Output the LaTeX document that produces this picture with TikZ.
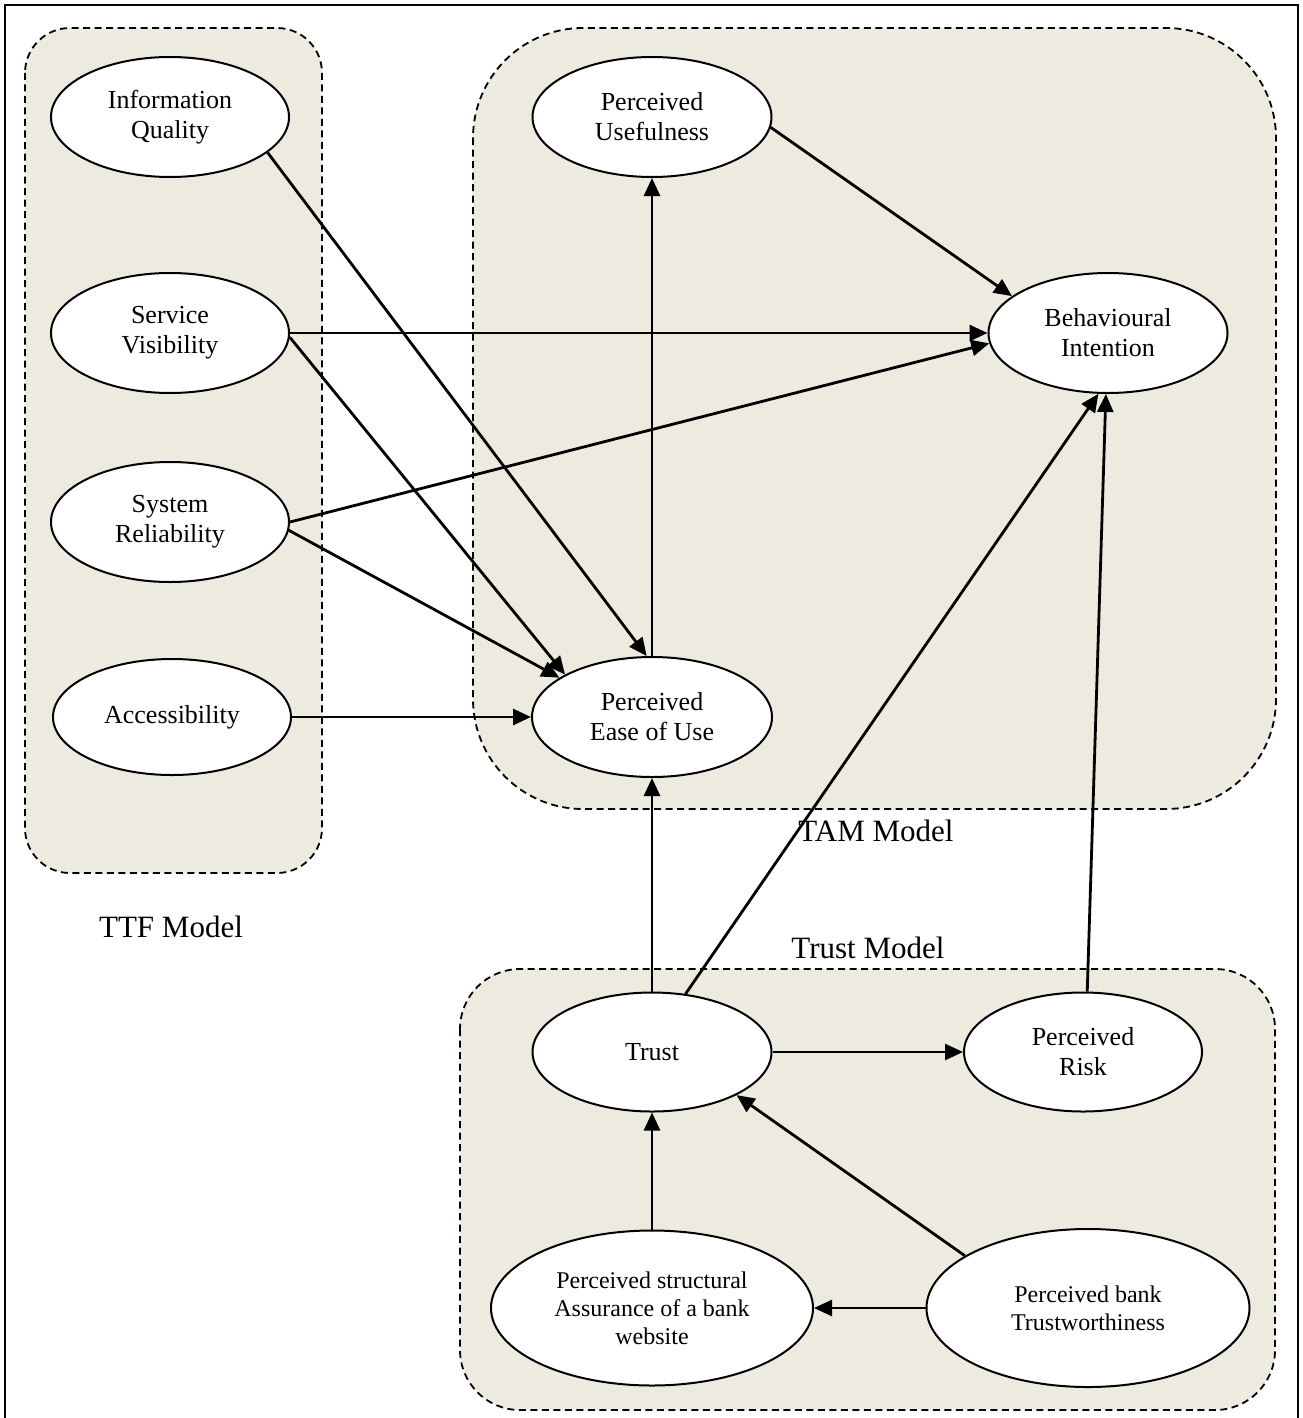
\documentclass[tikz,border=0pt]{standalone}
\usepackage{fontspec}
\setmainfont{Liberation Serif}
\usetikzlibrary{shapes.geometric,arrows.meta}

\definecolor{groupfill}{RGB}{237,235,224}

\begin{document}
\begin{tikzpicture}[x=1pt,y=-1pt,
  construct/.style={ellipse,draw,line width=2pt,fill=white,inner sep=0pt,
    align=center,font=\fontsize{26}{30}\selectfont},
  smalltext/.style={font=\fontsize{24}{28}\selectfont},
  group/.style={draw,fill=groupfill,line width=1.8pt,dash pattern=on 7pt off 4.5pt},
  link/.style={line width=2.8pt,-{Triangle[length=18pt,width=16pt]}},
  grouplabel/.style={anchor=base,inner sep=0pt,font=\fontsize{31}{36}\selectfont}]

\useasboundingbox (0,0) rectangle (1302,1418);
% outer frame
\draw[line width=2pt] (5,1420) -- (5,5) -- (1298,5) -- (1298,1420);

% model groups
\draw[group,rounded corners=45pt] (25,28) rectangle (322,873);
\draw[group,rounded corners=110pt] (473,28) rectangle (1276,809);
\draw[group,rounded corners=60pt] (460,969) rectangle (1275,1410);

% group labels
\node[grouplabel] (tamlabel) at (876,841) {TAM Model};
\node[grouplabel] (ttflabel) at (171,937) {TTF Model};
\node[grouplabel] (trustlabel) at (868,958) {Trust Model};

% TTF constructs
\node[construct,minimum width=238pt,minimum height=120pt] (IQ) at (170,117) {Information\\Quality};
\node[construct,minimum width=238pt,minimum height=120pt] (SV) at (170,333) {Service\\Visibility};
\node[construct,minimum width=238pt,minimum height=120pt] (SR) at (170,522) {System\\Reliability};
\node[construct,minimum width=238pt,minimum height=116pt] (AC) at (172,717) {Accessibility};

% TAM constructs
\node[construct,minimum width=239pt,minimum height=120pt] (PU) at (652,117) {Perceived\\Usefulness};
\node[construct,minimum width=239pt,minimum height=120pt] (BI) at (1108,333) {Behavioural\\Intention};
\node[construct,minimum width=240pt,minimum height=120pt] (PE) at (652,717) {Perceived\\Ease of Use};

% Trust constructs
\node[construct,minimum width=239pt,minimum height=119pt] (TR) at (652,1052) {Trust};
\node[construct,minimum width=238pt,minimum height=119pt] (PR) at (1083,1052) {Perceived\\Risk};
\node[construct,smalltext,minimum width=322pt,minimum height=155pt] (PS) at (652,1308)
  {Perceived structural\\Assurance of a bank\\website};
\node[construct,smalltext,minimum width=323pt,minimum height=158pt] (PB) at (1088,1308)
  {Perceived bank\\Trustworthiness};

% relations
\draw[link] (IQ.-20.2) -- (PE.95.5);
\draw[link] (SV.-2) -- (PE.154.2);
\draw[link] (SR.-4) -- (PE.157.7);
\draw[link] (AC.east) -- (PE.west);
\draw[link] (SV.east) -- (BI.west);
\draw[link] (SR.0) -- (BI.185);
\draw[link] (PE.north) -- (PU.south);
\draw[link] (PU.-5.3) -- (BI.159.8);
\draw[link] (TR.north) -- (PE.south);
\draw[link] (TR.60.9) -- (BI.261.3);
\draw[link] (PR.86) -- (BI.268);
\draw[link] (TR.east) -- (PR.west);
\draw[link] (PS.north) -- (TR.south);
\draw[link] (PB.157.6) -- (TR.-27.4);
\draw[link] (PB.west) -- (PS.east);
\end{tikzpicture}
\end{document}
